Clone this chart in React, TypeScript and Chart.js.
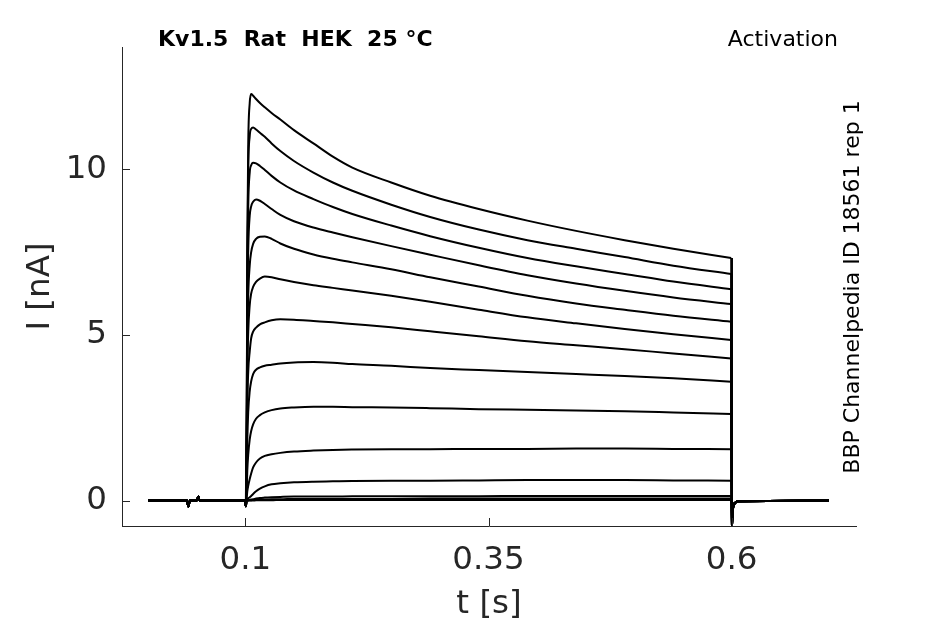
import { useEffect, useRef } from 'react';
import { Chart, registerables } from 'chart.js';

Chart.register(...registerables);

// axis ticks
const xTicks = [0.1, 0.35, 0.6];
const yTicks = [0, 5, 10];

// holding period before the step (same for every sweep)
const preT = [0, 0.04, 0.0414, 0.043, 0.05, 0.0517, 0.053, 0.0995];
const preI = [0, 0, -0.18, 0, 0, 0.12, 0, 0];

// step period, time points in s
const pulseT = [
  0.1, 0.1005, 0.1015, 0.102, 0.103, 0.1045, 0.106, 0.108, 0.111, 0.115,
  0.12, 0.127, 0.136, 0.15, 0.17, 0.19, 0.21, 0.25, 0.29, 0.34,
  0.39, 0.44, 0.49, 0.54, 0.5995,
];

// tail after the step
const postT = [0.6003, 0.6008, 0.6015, 0.603, 0.606, 0.7];
const postI = [-0.75, -0.4, -0.2, -0.08, -0.02, 0];

// current in nA for each sweep
const sweep1 = [0, -0.17, 3.0, 7.5, 10.8, 12.0, 12.27, 12.22, 12.12, 12.0, 11.87, 11.7, 11.5, 11.18, 10.78, 10.38, 10.05, 9.6, 9.2, 8.8, 8.45, 8.14, 7.86, 7.6, 7.32];
const sweep2 = [0, -0.17, 2.8, 7.0, 10.0, 11.0, 11.22, 11.26, 11.2, 11.1, 10.98, 10.78, 10.55, 10.25, 9.9, 9.6, 9.35, 8.93, 8.56, 8.18, 7.86, 7.6, 7.35, 7.09, 6.84];
const sweep3 = [0, -0.17, 2.5, 6.3, 8.9, 9.9, 10.12, 10.2, 10.18, 10.1, 9.98, 9.8, 9.6, 9.36, 9.1, 8.86, 8.65, 8.3, 7.98, 7.63, 7.32, 7.07, 6.84, 6.61, 6.38];
const sweep4 = [0, -0.17, 2.2, 5.5, 7.6, 8.6, 8.88, 9.02, 9.09, 9.05, 8.95, 8.8, 8.62, 8.43, 8.24, 8.09, 7.95, 7.68, 7.42, 7.1, 6.8, 6.55, 6.33, 6.13, 5.93];
const sweep5 = [0, -0.17, 1.8, 4.5, 6.2, 7.1, 7.5, 7.75, 7.9, 7.96, 7.97, 7.9, 7.76, 7.6, 7.43, 7.3, 7.19, 6.98, 6.74, 6.46, 6.18, 5.95, 5.76, 5.58, 5.4];
const sweep6 = [0, -0.17, 1.5, 3.7, 5.1, 5.9, 6.25, 6.45, 6.6, 6.7, 6.76, 6.74, 6.68, 6.6, 6.5, 6.42, 6.34, 6.18, 6.0, 5.76, 5.53, 5.35, 5.18, 5.02, 4.85];
const sweep7 = [0, -0.17, 1.2, 2.8, 3.9, 4.5, 4.9, 5.1, 5.22, 5.32, 5.38, 5.44, 5.47, 5.46, 5.42, 5.38, 5.33, 5.23, 5.11, 4.96, 4.81, 4.69, 4.57, 4.44, 4.29];
const sweep8 = [0, -0.17, 0.8, 1.8, 2.7, 3.3, 3.6, 3.82, 3.95, 4.02, 4.07, 4.1, 4.14, 4.17, 4.18, 4.16, 4.12, 4.07, 4.0, 3.94, 3.88, 3.82, 3.76, 3.69, 3.59];
const sweep9 = [0, -0.17, 0.4, 0.9, 1.4, 1.85, 2.1, 2.3, 2.47, 2.58, 2.66, 2.73, 2.78, 2.81, 2.83, 2.83, 2.82, 2.81, 2.79, 2.76, 2.74, 2.72, 2.7, 2.66, 2.61];
const sweep10 = [0, -0.17, 0.12, 0.28, 0.45, 0.65, 0.82, 1.0, 1.15, 1.27, 1.35, 1.4, 1.44, 1.48, 1.51, 1.53, 1.54, 1.55, 1.55, 1.56, 1.56, 1.57, 1.57, 1.56, 1.55];
const sweep11 = [0, -0.17, 0.02, 0.04, 0.07, 0.1, 0.14, 0.2, 0.28, 0.36, 0.43, 0.49, 0.52, 0.55, 0.57, 0.58, 0.59, 0.6, 0.6, 0.61, 0.62, 0.62, 0.62, 0.61, 0.6];
const sweep12 = [0, -0.17, 0, 0, 0.01, 0.02, 0.03, 0.04, 0.06, 0.08, 0.09, 0.1, 0.11, 0.12, 0.12, 0.12, 0.13, 0.13, 0.13, 0.13, 0.14, 0.14, 0.14, 0.14, 0.14];
const sweep13 = [0, -0.17, 0, 0, 0, 0.01, 0.01, 0.02, 0.02, 0.03, 0.03, 0.04, 0.04, 0.05, 0.05, 0.05, 0.05, 0.05, 0.06, 0.06, 0.06, 0.06, 0.06, 0.06, 0.06];
const sweep14 = [0, -0.17, 0, 0, 0, 0, 0, 0, 0.01, 0.01, 0.01, 0.01, 0.02, 0.02, 0.02, 0.02, 0.02, 0.02, 0.02, 0.02, 0.02, 0.02, 0.02, 0.02, 0.02];

const sweeps = [sweep1, sweep2, sweep3, sweep4, sweep5, sweep6, sweep7, sweep8, sweep9, sweep10, sweep11, sweep12, sweep13, sweep14];

const FONT = "'DejaVu Sans', sans-serif";
const AXIS = '#262626';

// tick marks drawn inward, like the original figure
const inwardTicks = {
  id: 'inwardTicks',
  afterDatasetsDraw(chart: any) {
    const { ctx, chartArea, scales } = chart;
    ctx.save();
    ctx.strokeStyle = AXIS;
    ctx.lineWidth = 1;
    ctx.beginPath();
    scales.x.ticks.forEach((t: any) => {
      const px = Math.round(scales.x.getPixelForValue(t.value)) + 0.5;
      ctx.moveTo(px, chartArea.bottom);
      ctx.lineTo(px, chartArea.bottom - 8);
    });
    scales.y.ticks.forEach((t: any) => {
      const py = Math.round(scales.y.getPixelForValue(t.value)) + 0.5;
      ctx.moveTo(chartArea.left, py);
      ctx.lineTo(chartArea.left + 8, py);
    });
    ctx.stroke();
    ctx.restore();
  },
};

// header texts
const labels = {
  id: 'labels',
  afterDraw(chart: any) {
    const { ctx } = chart;
    ctx.save();
    ctx.fillStyle = '#000';
    ctx.textBaseline = 'alphabetic';
    ctx.font = `bold 22px ${FONT}`;
    ctx.textAlign = 'left';
    ctx.fillText('Kv1.5  Rat  HEK  25 °C', 158, 46);
    ctx.font = `22px ${FONT}`;
    ctx.textAlign = 'right';
    ctx.fillText('Activation', 838, 46);
    ctx.translate(859, 287);
    ctx.rotate(-Math.PI / 2);
    ctx.textAlign = 'center';
    ctx.fillText('BBP Channelpedia ID 18561 rep 1', 0, 0);
    ctx.restore();
  },
};

export default function App() {
  const canvasRef = useRef<HTMLCanvasElement>(null);

  useEffect(() => {
    if (!canvasRef.current) return;

    const line = { borderColor: '#000', borderWidth: 2, pointRadius: 0, fill: false };

    // holding + step part: smooth curve
    const stepSets = sweeps.map((sw) => ({
      ...line,
      data: [
        ...preT.map((t, i) => ({ x: t, y: preI[i] })),
        ...pulseT.map((t, i) => ({ x: t, y: sw[i] })),
      ],
      cubicInterpolationMode: 'monotone' as const,
    }));

    // end of step and tail: straight segments
    const tailSets = sweeps.map((sw) => ({
      ...line,
      data: [
        { x: pulseT[pulseT.length - 1], y: sw[sw.length - 1] },
        ...postT.map((t, i) => ({ x: t, y: postI[i] })),
      ],
      tension: 0,
    }));

    const chart = new Chart(canvasRef.current, {
      type: 'line',
      data: { datasets: [...stepSets, ...tailSets] },
      options: {
        animation: false,
        responsive: true,
        maintainAspectRatio: false,
        layout: { padding: { left: 0, top: 47, right: 89, bottom: 0 } },
        plugins: { legend: { display: false }, tooltip: { enabled: false } },
        scales: {
          x: {
            type: 'linear',
            min: -0.0268,
            max: 0.7278,
            afterBuildTicks: (s: any) => {
              s.ticks = xTicks.map((v) => ({ value: v }));
            },
            afterFit: (s: any) => {
              s.height = 98;
            },
            grid: { display: false, drawTicks: false },
            border: { display: true, color: AXIS, width: 1 },
            ticks: {
              padding: 15,
              color: AXIS,
              font: { family: FONT, size: 32.5 },
              callback: (v: any) => String(v),
            },
            title: {
              display: true,
              text: 't [s]',
              color: AXIS,
              font: { family: FONT, size: 32.5 },
              padding: { top: 0, bottom: 0 },
            },
          },
          y: {
            type: 'linear',
            min: -0.767,
            max: 13.69,
            afterBuildTicks: (s: any) => {
              s.ticks = yTicks.map((v) => ({ value: v }));
            },
            afterFit: (s: any) => {
              s.width = 122;
            },
            grid: { display: false, drawTicks: false },
            border: { display: true, color: AXIS, width: 1 },
            ticks: {
              padding: 15,
              color: AXIS,
              font: { family: FONT, size: 32.5 },
              callback: (v: any) => String(v),
            },
            title: {
              display: true,
              text: 'I [nA]',
              color: AXIS,
              font: { family: FONT, size: 32.5 },
              padding: { top: 21, bottom: 0 },
            },
          },
        },
      },
      plugins: [inwardTicks, labels],
    });

    return () => {
      chart.destroy();
    };
  }, []);

  return (
    <div style={{ position: 'fixed', left: 0, top: 0, width: 945, height: 624, background: '#fff' }}>
      <canvas ref={canvasRef}></canvas>
    </div>
  );
}
